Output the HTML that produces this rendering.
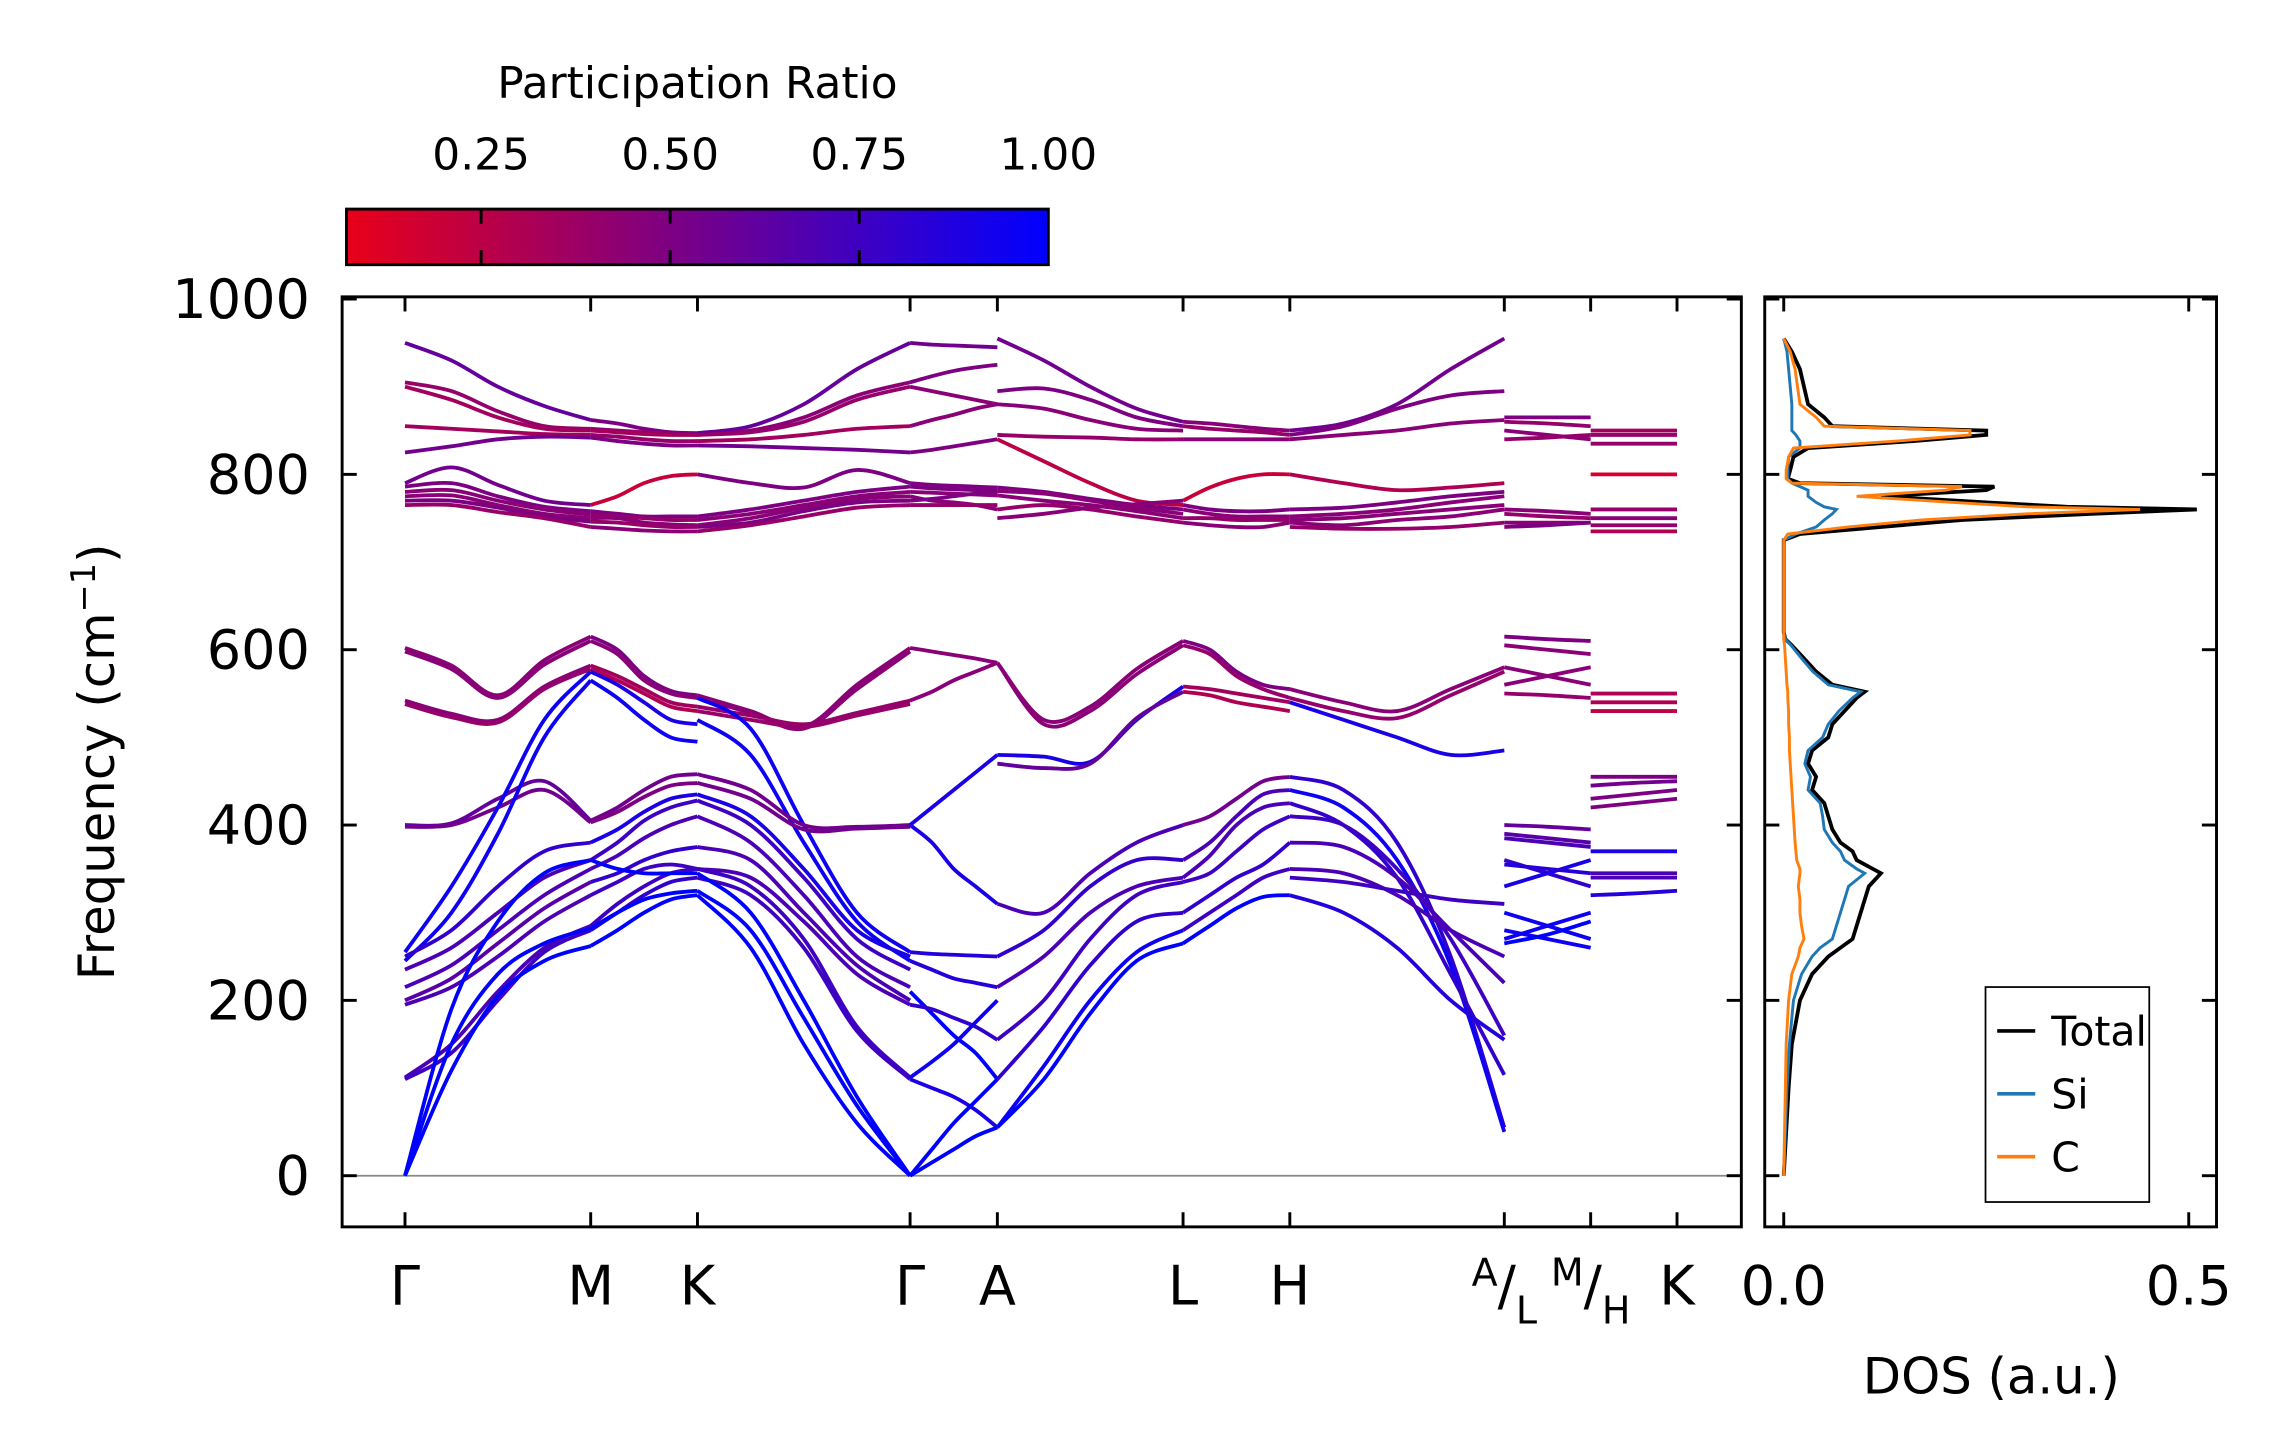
<!DOCTYPE html>
<html><head><meta charset="utf-8"><style>
html,body{margin:0;padding:0;background:#fff;}
svg{display:block;font-family:"DejaVu Sans","Liberation Sans",sans-serif;}
</style></head><body>
<svg id="fig" width="2275" height="1455" viewBox="0 0 1556 995" preserveAspectRatio="none" xmlns="http://www.w3.org/2000/svg">
<defs><linearGradient id="cmap" x1="0" x2="1" y1="0" y2="0"><stop offset="0" stop-color="rgb(232,0,25)"/><stop offset="1" stop-color="rgb(0,0,255)"/></linearGradient>
<clipPath id="mainclip"><rect x="234" y="203" width="957" height="636"/></clipPath></defs>
<g>
<text x="477" y="67" font-size="30" text-anchor="middle">Participation Ratio</text>
<rect x="237" y="143" width="480" height="38" fill="url(#cmap)" stroke="#000" stroke-width="2"/>
<g id="cbticks"></g>
</g>
<g id="bands" clip-path="url(#mainclip)"></g>
<g id="mainaxes"></g>
<g id="dos"></g>
<text transform="translate(78,521) rotate(-90)" font-size="34" text-anchor="middle">Frequency (cm<tspan dy="-13" font-size="23">−1</tspan><tspan dy="13">)</tspan></text>
<text x="1362" y="953" font-size="34" text-anchor="middle">DOS (a.u.)</text>
</svg>
<script>
const NS="http://www.w3.org/2000/svg";
// ---------- data ----------
const cbTicks=[0.25,0.5,0.75,1.0];
const cbLabels=["0.25","0.50","0.75","1.00"];
const yTicks=[0,200,400,600,800,1000];
const kTicks=[0,1,1.575,2.72,3.19,4.19,4.765,5.92,6.385,6.85];
const kLabels=["Γ","M","K","Γ","A","L","H","A/L","M/H","K"];
const seg1Bands=[[950,930,900,878,862],[905,895,872,855,852],[900,885,865,852,850],[855,852,849,846,845],[825,832,840,843,842],[790,808,788,770,765],[786,790,775,763,758],[780,782,770,760,754],[775,776,765,755,750],[770,770,762,752,746],[765,765,757,750,740],[602,582,548,588,615],[598,578,545,583,610],[542,527,520,558,582],[538,523,517,555,578],[400,402,430,450,405],[398,400,420,440,403],[255,330,420,520,575],[245,300,390,500,565],[250,280,330,370,380],[235,260,300,340,360],[215,240,280,320,350],[200,225,265,305,335],[195,215,250,290,320],[112,150,210,260,285],[110,140,200,255,280],[0,190,290,345,360],[0,150,230,265,282],[0,120,205,245,262]];
const seg1PR=[.6,.4,.35,.35,.55,.55,.5,.45,.45,.5,.4,.45,.45,.45,.4,.6,.55,.95,.95,.8,.7,.7,.65,.7,.7,.75,1,1,1];
const seg2Bands=[[862,858,852,848,847],[852,850,848,846,845],[850,848,846,845,845],[845,843,840,838,838],[842,838,835,833,833],[765,775,790,798,800],[758,755,752,752,752],[754,752,750,748,748],[750,750,745,743,742],[746,745,742,740,740],[740,738,736,735,735],[615,600,570,553,548],[610,595,565,550,545],[582,570,555,540,535],[578,565,550,535,530],[575,560,540,520,515],[565,545,520,500,495],[405,420,440,455,458],[403,415,432,445,448],[380,395,415,430,435],[360,380,405,420,428],[350,365,385,400,410],[335,345,360,370,375],[320,335,350,355,350],[285,310,330,345,350],[280,300,320,335,340],[360,350,345,345,345],[282,300,315,322,325],[262,280,300,315,320]];
const seg2PR=[.5,.4,.35,.4,.5,.2,.5,.4,.45,.4,.45,.5,.45,.35,.3,.9,.95,.55,.5,.9,.75,.7,.8,.75,.75,.8,1,1,1];
const seg3Bands=[[847,855,880,920,950],[845,850,865,890,905],[845,848,860,885,900],[838,840,845,852,855],[833,832,830,828,825],[800,790,785,805,790],[752,760,770,780,786],[748,755,765,775,780],[742,750,762,772,775],[740,745,758,768,770],[735,742,752,762,765],[548,530,512,560,602],[545,528,510,555,598],[535,525,515,528,542],[530,520,512,525,538],[545,510,400,300,255],[520,480,380,290,245],[458,440,400,398,400],[448,430,395,396,398],[435,410,350,280,250],[428,400,340,270,235],[410,380,320,250,215],[375,360,300,240,200],[350,340,290,230,195],[350,330,270,170,112],[340,320,260,165,110],[345,300,200,90,0],[325,280,180,80,0],[320,260,150,60,0]];
const seg3PR=[.6,.45,.4,.35,.55,.5,.5,.45,.45,.5,.4,.45,.45,.4,.4,.95,.95,.55,.55,.9,.75,.7,.7,.7,.75,.75,1,1,1];
const seg4Bands=[[950,948,947,946,945],[905,912,918,922,925],[900,895,890,885,880],[855,862,868,875,880],[825,828,832,836,840],[790,788,787,786,785],[786,784,783,782,781],[780,779,778,777,776],[775,770,768,765,760],[770,772,775,778,780],[765,765,765,765,765],[602,598,594,590,585],[542,552,565,575,585],[400,420,440,460,480],[400,380,350,330,310],[255,253,252,251,250],[245,235,225,220,215],[210,185,160,140,110],[195,190,180,170,155],[112,130,150,175,200],[110,100,90,75,55],[0,30,60,85,110],[0,15,30,45,55]];
const seg4PR=[.55,.5,.45,.45,.5,.5,.5,.45,.45,.5,.4,.45,.45,.9,.9,.85,.85,1,.8,.95,.9,1,1];
const seg5Bands=[[955,930,900,875,860],[895,898,885,865,855],[880,875,862,852,850],[845,843,842,840,840],[840,815,790,770,765],[785,780,772,765,760],[781,778,770,762,755],[776,770,765,758,750],[760,765,760,752,745],[750,755,762,766,770],[585,520,535,578,610],[585,515,530,572,605],[480,478,472,520,558],[470,465,470,522,552],[310,300,345,380,400],[250,280,330,360,360],[215,250,300,330,340],[155,200,270,320,335],[110,170,240,290,300],[55,125,200,255,280],[55,110,185,245,265]];
const seg5PR=[.55,.5,.45,.4,.25,.5,.45,.45,.4,.45,.45,.45,.9,.6,.7,.8,.7,.75,.8,.95,1];
const seg6Bands=[[860,858,855,852,850],[855,852,850,848,845],[840,840,840,840,840],[770,785,795,800,800],[765,760,758,758,760],[760,755,752,752,752],[750,750,748,748,748],[745,742,740,740,745],[610,600,575,560,555],[605,595,570,555,545],[558,555,550,545,540],[552,548,540,535,530],[400,410,430,450,455],[360,380,410,435,440],[340,365,400,420,425],[335,345,370,395,410],[300,320,340,355,380],[280,300,320,340,350],[265,285,305,318,320]];
const seg6PR=[.45,.4,.45,.2,.5,.45,.4,.45,.5,.4,.35,.3,.55,.7,.7,.75,.8,.75,1];
const seg7Bands=[[850,858,880,920,955],[845,855,875,890,895],[840,845,850,858,862],[800,790,782,785,790],[760,762,768,775,780],[752,755,760,768,775],[748,750,755,760,765],[745,742,748,752,760],[740,738,738,740,745],[555,540,530,555,580],[545,530,522,548,575],[540,520,500,480,485],[455,440,380,250,55],[440,420,360,240,50],[425,400,340,230,115],[410,400,350,270,160],[380,375,340,280,220],[350,345,320,280,250],[340,335,325,315,310],[320,300,260,200,155]];
const seg7PR=[.55,.5,.45,.3,.5,.45,.45,.45,.4,.45,.4,.9,.8,.95,.8,.75,.7,.7,.75,.85];
const seg8Bands=[[865,865,865],[860,858,855],[850,845,840],[840,842,845],[760,758,755],[755,752,750],[745,745,745],[740,742,745],[615,612,610],[605,600,595],[580,570,560],[560,570,580],[550,548,545],[400,398,395],[390,385,380],[385,380,375],[360,345,330],[330,345,360],[355,350,345],[300,285,270],[270,285,300],[280,270,260],[265,275,290]];
const seg8PR=[.5,.4,.45,.4,.45,.4,.45,.5,.5,.45,.45,.45,.4,.6,.65,.7,.8,.9,.85,.95,.95,.95,1];
const seg9Bands=[[850,850,850],[845,845,845],[835,835,835],[800,800,800],[760,760,760],[750,750,750],[742,742,742],[735,735,735],[550,550,550],[540,540,540],[530,530,530],[455,455,455],[445,448,450],[430,435,440],[420,425,430],[370,370,370],[345,345,345],[340,340,340],[320,322,325]];
const seg9PR=[.35,.4,.4,.15,.4,.45,.4,.3,.3,.3,.25,.5,.55,.5,.5,.9,.7,.7,.85];
const dosFreq=[0,50,100,150,200,230,250,260,270,285,300,315,330,345,350,360,370,380,395,410,425,440,455,470,485,500,515,530,545,552,560,575,590,605,612,620,700,725,732,740,748,755,760,763,768,775,782,786,790,795,805,820,830,838,845,850,855,865,880,900,920,940,955];
const dosTotal=[0,.003,.006,.01,.02,.035,.055,.07,.085,.09,.095,.1,.105,.12,.11,.09,.085,.07,.06,.055,.05,.035,.04,.03,.035,.055,.06,.075,.09,.1,.06,.04,.025,.01,.002,0,0,0,.02,.12,.22,.38,.51,.35,.25,.12,.25,.26,.02,.005,.008,.012,.03,.16,.25,.25,.06,.05,.03,.025,.02,.01,0];
const dosSi=[0,.002,.004,.007,.012,.022,.035,.045,.06,.065,.07,.075,.08,.1,.09,.075,.07,.06,.05,.048,.045,.03,.033,.026,.03,.048,.055,.068,.085,.095,.055,.036,.022,.009,.002,0,0,0,.015,.04,.05,.06,.065,.05,.04,.03,.03,.02,.01,.005,.005,.006,.02,.02,.015,.01,.01,.01,.01,.008,.006,.004,0];
const dosC=[0,.001,.002,.003,.006,.01,.018,.02,.025,.022,.02,.02,.018,.02,.02,.016,.015,.014,.013,.012,.011,.01,.009,.008,.007,.007,.006,.006,.005,.005,.004,.003,.002,.001,0,0,0,0,.005,.08,.17,.3,.44,.3,.21,.09,.2,.22,.01,.003,.003,.006,.012,.14,.23,.23,.05,.04,.02,.017,.014,.008,0];
const dosTicks=[0,0.5];
const dosTickLabels=["0.0","0.5"];
const legendNames=["Total","Si","C"];
// ---------- scales ----------
const X0=234,X1=1191,Y0=203,Y1=839;
const kx=k=>277+k*(1147-277)/6.85;
const fy=f=>804-f*0.5995;
const dx=v=>1220+v*554;
const cbx=v=>237+(v-0.072)/0.928*480;
function prColor(p){let t=(p-0.072)/0.928;t=Math.max(0,Math.min(1,t));return `rgb(${Math.round(232*(1-t))},0,${Math.round(25+230*t)})`;}
function el(tag,attrs,parent){const e=document.createElementNS(NS,tag);for(const k in attrs)e.setAttribute(k,attrs[k]);parent.appendChild(e);return e;}
const cbt=document.getElementById('cbticks');
cbTicks.forEach((v,i)=>{const x=cbx(v);
 if(v<1){el('line',{x1:x,x2:x,y1:143,y2:153,stroke:'#000','stroke-width':2},cbt);el('line',{x1:x,x2:x,y1:171,y2:181,stroke:'#000','stroke-width':2},cbt);}
 const t=el('text',{x:x,y:116,'font-size':30,'text-anchor':'middle'},cbt);t.textContent=cbLabels[i];
 
 
});
function smoothPath(pts){let d=`M${pts[0][0]},${pts[0][1]}`;for(let i=0;i<pts.length-1;i++){const p0=pts[Math.max(0,i-1)],p1=pts[i],p2=pts[i+1],p3=pts[Math.min(pts.length-1,i+2)];
 const c1=[p1[0]+(p2[0]-p0[0])/6,p1[1]+(p2[1]-p0[1])/6],c2=[p2[0]-(p3[0]-p1[0])/6,p2[1]-(p3[1]-p1[1])/6];d+=` C${c1[0]},${c1[1]} ${c2[0]},${c2[1]} ${p2[0]},${p2[1]}`;}return d;}
const segs=[[0,1,seg1Bands,seg1PR],[1,2,seg2Bands,seg2PR],[2,3,seg3Bands,seg3PR],[3,4,seg4Bands,seg4PR],[4,5,seg5Bands,seg5PR],[5,6,seg6Bands,seg6PR],[6,7,seg7Bands,seg7PR],[7,8,seg8Bands,seg8PR],[8,9,seg9Bands,seg9PR]];
const bg=document.getElementById('bands');
el('line',{x1:X0,x2:X1,y1:fy(0),y2:fy(0),stroke:'#888','stroke-width':1.2},bg);
segs.forEach((s,si)=>{const xa=kx(kTicks[s[0]]),xb=kx(kTicks[s[1]]);
 s[2].forEach((b,bi)=>{const n=b.length;const pts=b.map((f,j)=>[xa+(xb-xa)*j/(n-1),fy(f)]);
  const p=el('path',{d:smoothPath(pts),fill:'none',stroke:prColor(s[3][bi]),'stroke-width':2.6},bg);
  
  
 });
});
const ma=document.getElementById('mainaxes');
el('rect',{x:X0,y:Y0,width:X1-X0,height:Y1-Y0,fill:'none',stroke:'#000','stroke-width':2},ma);
yTicks.forEach(v=>{const y=fy(v);
 el('line',{x1:X0,x2:X0+10,y1:y,y2:y,stroke:'#000','stroke-width':2},ma);
 el('line',{x1:X1-10,x2:X1,y1:y,y2:y,stroke:'#000','stroke-width':2},ma);
 const t=el('text',{x:212,y:y+13,'font-size':37,'text-anchor':'end'},ma);t.textContent=v;
 
 
});
kTicks.forEach((k,i)=>{const x=kx(k);
 el('line',{x1:x,x2:x,y1:Y0,y2:Y0+10,stroke:'#000','stroke-width':2},ma);
 el('line',{x1:x,x2:x,y1:Y1-10,y2:Y1,stroke:'#000','stroke-width':2},ma);
 const lab=kLabels[i];let t;
 if(lab.includes('/')){const [a,b]=lab.split('/');
  t=el('text',{x:x,y:892,'font-size':37,'text-anchor':'middle'},ma);
  t.innerHTML=`<tspan font-size="26" dy="-13">${a}</tspan><tspan dy="13">/</tspan><tspan font-size="26" dy="13">${b}</tspan>`;
 } else {t=el('text',{x:x,y:892,'font-size':37,'text-anchor':'middle'},ma);t.textContent=lab;}
 
 
});
const D0=1207,D1=1516;
const dp=document.getElementById('dos');
el('rect',{x:D0,y:Y0,width:D1-D0,height:Y1-Y0,fill:'none',stroke:'#000','stroke-width':2},dp);
yTicks.forEach(v=>{const y=fy(v);
 el('line',{x1:D0,x2:D0+10,y1:y,y2:y,stroke:'#000','stroke-width':2},dp);
 el('line',{x1:D1-10,x2:D1,y1:y,y2:y,stroke:'#000','stroke-width':2},dp);});
dosTicks.forEach((v,i)=>{const x=dx(v);
 el('line',{x1:x,x2:x,y1:Y0,y2:Y0+10,stroke:'#000','stroke-width':2},dp);
 el('line',{x1:x,x2:x,y1:Y1-10,y2:Y1,stroke:'#000','stroke-width':2},dp);
 const t=el('text',{x:x,y:892,'font-size':37,'text-anchor':'middle'},dp);t.textContent=dosTickLabels[i];
 
 
});
const dosSeries=[[dosTotal,'#000','dos-total-line'],[dosSi,'#1f77b4','dos-si-line'],[dosC,'#ff7f0e','dos-c-line']];
dosSeries.forEach(s=>{const pts=dosFreq.map((f,i)=>`${dx(s[0][i])},${fy(f)}`).join(' ');
 const p=el('polyline',{points:pts,fill:'none',stroke:s[1],'stroke-width':s[1]=='#000'?2.6:2},dp);
 
 
});
const lg=el('g',{},dp);


el('rect',{x:1358,y:675,width:112,height:147,fill:'#fff',stroke:'#000','stroke-width':1.2},lg);
legendNames.forEach((n,i)=>{const y=705+i*43;
 el('line',{x1:1366,x2:1392,y1:y,y2:y,stroke:dosSeries[i][1],'stroke-width':2.5},lg);
 const t=el('text',{x:1403,y:y+10,'font-size':28},lg);t.textContent=n;
 
 
});
</script>
</body></html>
